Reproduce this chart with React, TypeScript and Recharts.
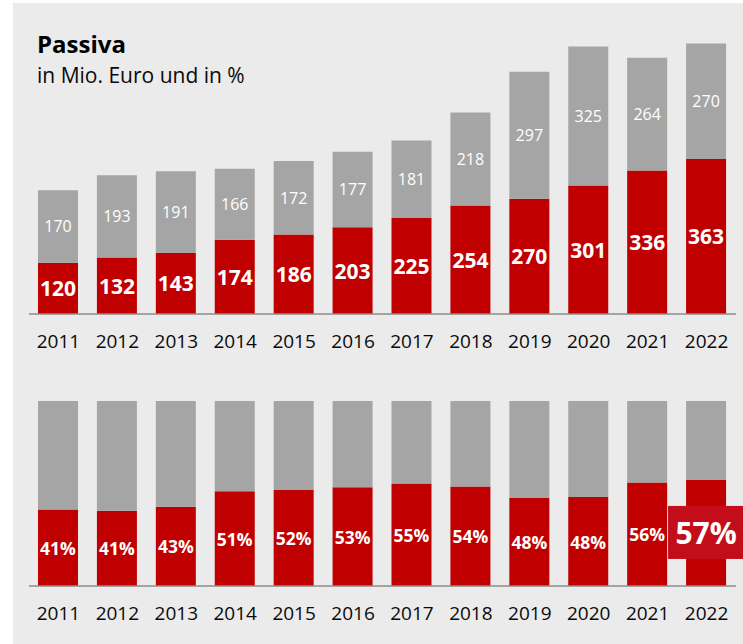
import { BarChart, Bar, XAxis, YAxis, LabelList } from "recharts";

const years = ["2011", "2012", "2013", "2014", "2015", "2016", "2017", "2018", "2019", "2020", "2021", "2022"];
const redValues = [120, 132, 143, 174, 186, 203, 225, 254, 270, 301, 336, 363];
const grayValues = [170, 193, 191, 166, 172, 177, 181, 218, 297, 325, 264, 270];
const percentLabels = ["41%", "41%", "43%", "51%", "52%", "53%", "55%", "54%", "48%", "48%", "56%", "57%"];

const data = years.map((year, i) => ({
  year,
  red: redValues[i],
  gray: grayValues[i],
  pct: percentLabels[i],
}));

const FONT = '"Open Sans", sans-serif';
const RED = "#c00000";
const HIGHLIGHT = "#c30d1b";
const GRAY = "#a5a5a5";
const BG = "#ebebeb";
const AXIS = "#8c8c8c";

// recharts 3 may put the bar rect in viewBox instead of x/y
// eslint-disable-next-line @typescript-eslint/no-explicit-any
function rectOf(props: any) {
  const vb = props.viewBox ?? {};
  return {
    x: Number(props.x ?? vb.x),
    y: Number(props.y ?? vb.y),
    w: Number(props.width ?? vb.width),
    h: Number(props.height ?? vb.height),
  };
}

// eslint-disable-next-line @typescript-eslint/no-explicit-any
const centerLabel = (size: number, bold: boolean) => (props: any) => {
  const { x, y, w, h } = rectOf(props);
  return (
    <text
      x={x + w / 2}
      y={y + h / 2}
      textAnchor="middle"
      dominantBaseline="central"
      fill="#fff"
      fontSize={size}
      fontWeight={bold ? 700 : 400}
      fontFamily={FONT}
    >
      {props.value}
    </text>
  );
};

// eslint-disable-next-line @typescript-eslint/no-explicit-any
const PercentLabel = (props: any) => {
  const { x, y, w, h } = rectOf(props);
  const cx = x + w / 2;
  const cy = y + h / 2;
  const label = percentLabels[props.index] ?? props.value;
  if (props.index === percentLabels.length - 1) {
    return (
      <g>
        <rect x={cx - 38} y={cy - 27} width={76} height={53} fill={HIGHLIGHT} />
        <text
          x={cx}
          y={cy}
          textAnchor="middle"
          dominantBaseline="central"
          fill="#fff"
          fontSize={30}
          fontWeight={700}
          fontFamily={FONT}
        >
          {label}
        </text>
      </g>
    );
  }
  return (
    <text
      x={cx}
      y={cy}
      textAnchor="middle"
      dominantBaseline="central"
      fill="#fff"
      fontSize={17.5}
      fontWeight={700}
      fontFamily={FONT}
    >
      {label}
    </text>
  );
};

const xAxisProps = {
  dataKey: "year",
  tickLine: false,
  tickMargin: 15,
  axisLine: { stroke: AXIS, strokeWidth: 1.5 },
  tick: { fill: "#0a0a0a", fontSize: 19, fontFamily: FONT },
  interval: 0 as const,
};

export default function App() {
  return (
    <div style={{ position: "absolute", left: 0, top: 0, width: 743, height: 644, overflow: "hidden", fontFamily: FONT }}>
      <div style={{ position: "absolute", left: 13, top: 3, width: 730, height: 641, background: BG }} />
      <div style={{ position: "absolute", left: 37, top: 32, fontSize: 24, fontWeight: 700, lineHeight: 1, color: "#000" }}>
        Passiva
      </div>
      <div style={{ position: "absolute", left: 37, top: 65, fontSize: 21, lineHeight: 1, color: "#0a0a0a" }}>
        in Mio. Euro und in %
      </div>

      <div style={{ position: "absolute", left: 0, top: 0 }}>
        <BarChart width={743} height={360} data={data} margin={{ top: 15, right: 7, bottom: 0, left: 29 }} barSize={40}>
          <XAxis {...xAxisProps} height={46} />
          <YAxis hide domain={[0, 700]} />
          <Bar dataKey="red" stackId="a" fill={RED} isAnimationActive={false}>
            <LabelList dataKey="red" content={centerLabel(21, true)} />
          </Bar>
          <Bar dataKey="gray" stackId="a" fill={GRAY} isAnimationActive={false}>
            <LabelList dataKey="gray" content={centerLabel(16, false)} />
          </Bar>
        </BarChart>
      </div>

      <div style={{ position: "absolute", left: 0, top: 360 }}>
        <BarChart
          width={743}
          height={284}
          data={data}
          stackOffset="expand"
          margin={{ top: 41, right: 7, bottom: 0, left: 29 }}
          barSize={40}
        >
          <XAxis {...xAxisProps} height={58} />
          <YAxis hide domain={[0, 1]} />
          <Bar dataKey="red" stackId="b" fill={RED} isAnimationActive={false}>
            <LabelList dataKey="pct" content={PercentLabel} />
          </Bar>
          <Bar dataKey="gray" stackId="b" fill={GRAY} isAnimationActive={false} />
        </BarChart>
      </div>
    </div>
  );
}
